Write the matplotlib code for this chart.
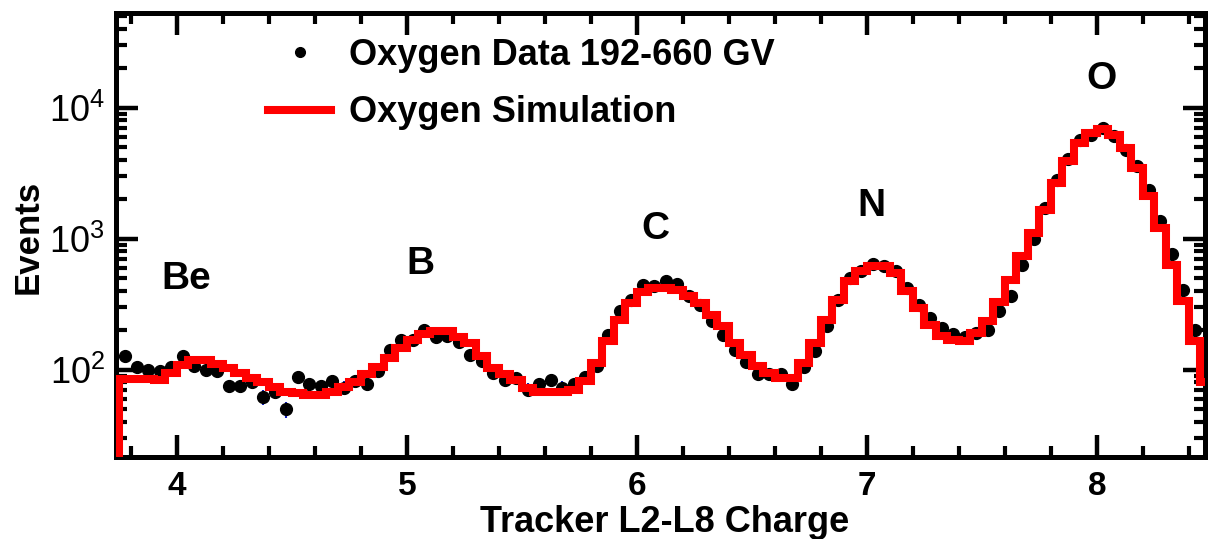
import numpy as np
import matplotlib
matplotlib.use("Agg")
import matplotlib.pyplot as plt
from matplotlib.ticker import MultipleLocator, LogLocator, NullFormatter
from matplotlib.lines import Line2D

plt.rcParams['font.family'] = ['Liberation Sans', 'DejaVu Sans']
plt.rcParams['mathtext.fontset'] = 'custom'
plt.rcParams['mathtext.rm'] = 'Liberation Sans'

# ---- data ----
bin_start = 3.75
bin_width = 0.05

sim_counts = [85, 85, 85, 83, 95, 109, 119, 119, 111, 103,
              94, 86, 80, 74, 68, 66, 64, 64, 68, 74,
              80, 93, 105, 122, 145, 169, 188, 196, 196, 178,
              160, 126, 103, 92, 84, 73, 68, 68, 68, 70,
              82, 112, 164, 241, 323, 389, 420, 420, 403, 367,
              323, 263, 214, 160, 130, 106, 94, 87, 86, 112,
              160, 241, 342, 472, 562, 615, 615, 547, 396, 296,
              221, 180, 169, 164, 191, 234, 328, 487, 733, 1105,
              1665, 2661, 3890, 5377, 6412, 6873, 6218, 4922, 3464, 2103,
              1208, 633, 332, 164, 81]

data_counts = [126, 104, 100, 98, 105, 126, 106, 100, 97, 75,
               75, 81, 62, 68, 50, 88, 78, 75, 82, 73,
               82, 77, 97, 142, 167, 169, 202, 178, 182, 162,
               130, 116, 94, 84, 86, 70, 78, 84, 73, 77,
               88, 107, 185, 279, 338, 446, 433, 478, 451, 367,
               314, 234, 185, 142, 114, 93, 92, 93, 78, 105,
               139, 216, 342, 501, 562, 644, 615, 562, 420, 314,
               248, 208, 188, 178, 191, 202, 279, 363, 633, 994,
               1715, 2819, 4056, 5627, 6218, 6998, 6112, 4779, 3565, 2366,
               1355, 768, 403, 202]

x_ticks = [4, 5, 6, 7, 8]
peak_labels = ["Be", "B", "C", "N", "O"]
peak_x = [4.04, 5.06, 6.08, 7.02, 8.02]
peak_y = [490, 640, 1180, 1780, 16500]

legend_labels = ["Oxygen Data 192-660 GV", "Oxygen Simulation"]

# ---- derived positions ----
edges = bin_start + bin_width * np.arange(len(sim_counts) + 1)
centers = bin_start + bin_width * (np.arange(len(data_counts)) + 0.5)
data_arr = np.array(data_counts, dtype=float)
data_err = np.sqrt(data_arr)

W, H = 1209, 539
fig = plt.figure(figsize=(W / 100, H / 100), dpi=100)
ax = fig.add_axes([116 / W, 1 - 457 / H, (1205 - 116) / W, (457 - 13) / H])

ax.errorbar(centers, data_arr, yerr=data_err, fmt='o', color='black',
            ms=8.5, ecolor='#1020c0', elinewidth=1.5, capsize=0, zorder=2)
ax.stairs(sim_counts, edges, baseline=1, color='#ff0000', lw=5.8,
          joinstyle='miter', zorder=3)

ax.set_yscale('log')
ax.set_xlim(3.735, 8.47)
ax.set_ylim(21.5, 5.3e4)

ax.xaxis.set_major_locator(MultipleLocator(1))
ax.xaxis.set_minor_locator(MultipleLocator(0.2))
ax.set_xticks(x_ticks)
ax.set_xticklabels([str(t) for t in x_ticks], fontweight='bold', fontsize=24)
ax.yaxis.set_major_locator(LogLocator(base=10, numticks=10))
ax.yaxis.set_minor_locator(LogLocator(base=10, subs=np.arange(2, 10), numticks=20))
ax.yaxis.set_minor_formatter(NullFormatter())

ax.tick_params(which='both', direction='in', top=True, right=True, color='black')
ax.tick_params(which='major', length=16, width=3.2)
ax.tick_params(which='minor', length=8, width=3)
ax.tick_params(axis='y', which='major', labelsize=26, pad=8)
ax.tick_params(axis='x', which='major', pad=10)

for s in ax.spines.values():
    s.set_linewidth(3.6)

ax.set_xlabel("Tracker L2-L8 Charge", fontsize=26, fontweight='bold')
ax.xaxis.set_label_coords(0.504, -0.108)
ax.set_ylabel("Events", fontsize=25, fontweight='bold')
ax.yaxis.set_label_coords(-0.066, 0.495)

for lab, xx, yy in zip(peak_labels, peak_x, peak_y):
    ax.text(xx, yy, lab, fontsize=28, fontweight='bold', ha='center', va='center')

handles = [Line2D([], [], ls='', marker='o', color='black', ms=7),
           Line2D([], [], color='#ff0000', lw=5.8)]
ax.legend(handles, legend_labels, loc='upper left',
          bbox_to_anchor=(268 / W, 1 - 38 / H), bbox_transform=fig.transFigure,
          frameon=False, borderpad=0, borderaxespad=0, handlelength=1.75,
          handletextpad=0.5, labelspacing=0.62,
          prop={'size': 26, 'weight': 'bold'})

fig.savefig("out.png", dpi=100)
